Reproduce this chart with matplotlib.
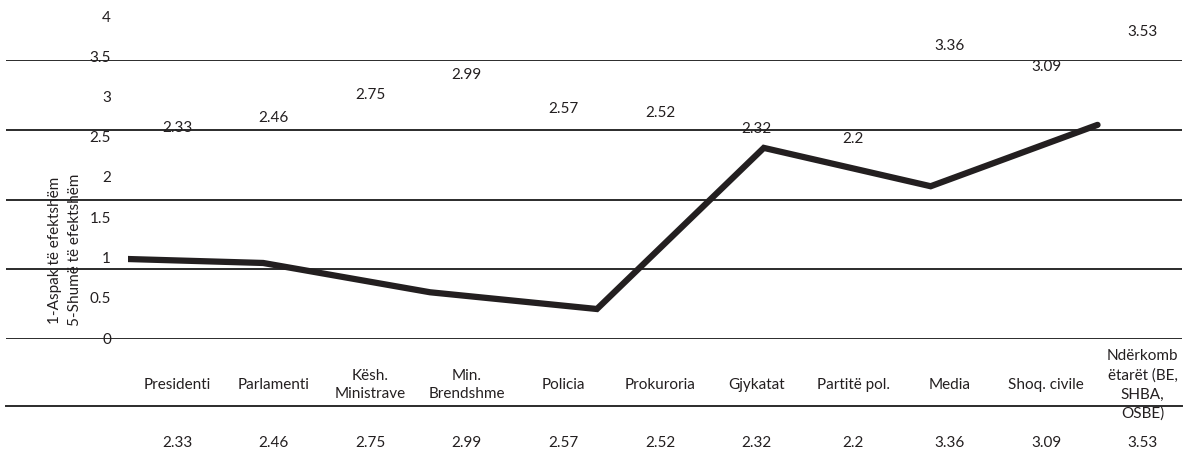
import matplotlib
matplotlib.use("Agg")
import matplotlib.pyplot as plt
from matplotlib.lines import Line2D
from matplotlib.transforms import blended_transform_factory

plt.rcParams['font.family'] = ['Lato', 'DejaVu Sans']

# Te dhenat
kategorite = ["Presidenti", "Parlamenti", "Kësh.\nMinistrave", "Min.\nBrendshme",
              "Policia", "Prokuroria", "Gjykatat", "Partitë pol.", "Media",
              "Shoq. civile", "Ndërkomb\nëtarët (BE,\nSHBA,\nOSBE)"]
vlerat = [2.33, 2.46, 2.75, 2.99, 2.57, 2.52, 2.32, 2.2, 3.36, 3.09, 3.53]
y_ticks = [0, 0.5, 1, 1.5, 2, 2.5, 3, 3.5, 4]
y_tick_labels = ["0", "0.5", "1", "1.5", "2", "2.5", "3", "3.5", "4"]

# vija e vizatuar (shkalla e vijave horizontale)
vija_vlerat = [1.16, 1.09, 0.67, 0.43, 2.74, 2.19, 3.07]
nivelet_grid = [0, 1, 2, 3, 4]

TEXT = '#231f20'
W, H = 1198, 457

def rect(x0, y0, x1, y1):
    return [x0 / W, 1 - y1 / H, (x1 - x0) / W, (y1 - y0) / H]

fig = plt.figure(figsize=(W / 100, H / 100), dpi=100)

# vijat horizontale
ax_g = fig.add_axes(rect(6, 60, 1182, 339))
for lv in nivelet_grid:
    ax_g.axhline(lv, color='#2b2b2b', lw=1.4)
ax_g.set_ylim(0, 4)
ax_g.axis('off')
fig.add_artist(Line2D([6 / W, 1182 / W], [1 - 406 / H, 1 - 406 / H],
                      color='#2b2b2b', lw=1.4))

# vija e trashe
ax_l = fig.add_axes(rect(128, 60, 1191, 339))
ax_l.plot(range(len(vija_vlerat)), vija_vlerat, color=TEXT, lw=4.5,
          solid_capstyle='round', solid_joinstyle='miter')
ax_l.set_xlim(0.19, 6.56)
ax_l.set_ylim(0, 4)
ax_l.axis('off')

# boshti i etiketave
ax = fig.add_axes(rect(129, 16, 1191, 338))
ax.set_xlim(-0.5, 10.5)
ax.set_ylim(0, 4)
ax.patch.set_visible(False)
for s in ax.spines.values():
    s.set_visible(False)
ax.set_xticks([])
ax.set_yticks(y_ticks)
ax.set_yticklabels(y_tick_labels)
ax.tick_params(axis='y', length=0, pad=13, labelsize=11, labelcolor=TEXT)

for i, v in enumerate(vlerat):
    ax.annotate(str(v), (i, v), xytext=(0, 15.8), textcoords='offset points',
                ha='center', va='center', fontsize=11, color=TEXT)

tr = blended_transform_factory(ax.transData, fig.transFigure)
for i, (k, v) in enumerate(zip(kategorite, vlerat)):
    ax.text(i, 1 - 385 / H, k, transform=tr, ha='center', va='center',
            fontsize=11, color=TEXT, linespacing=1.45, multialignment='center')
    ax.text(i, 1 - 443 / H, str(v), transform=tr, ha='center', va='center',
            fontsize=11, color=TEXT)

fig.text(65 / W, 1 - 250 / H, "1-Aspak të efektshëm\n5-Shumë të efektshëm",
         rotation=90, ha='center', va='center', fontsize=11, color=TEXT,
         linespacing=1.5)

fig.savefig('out.png', dpi=100)
